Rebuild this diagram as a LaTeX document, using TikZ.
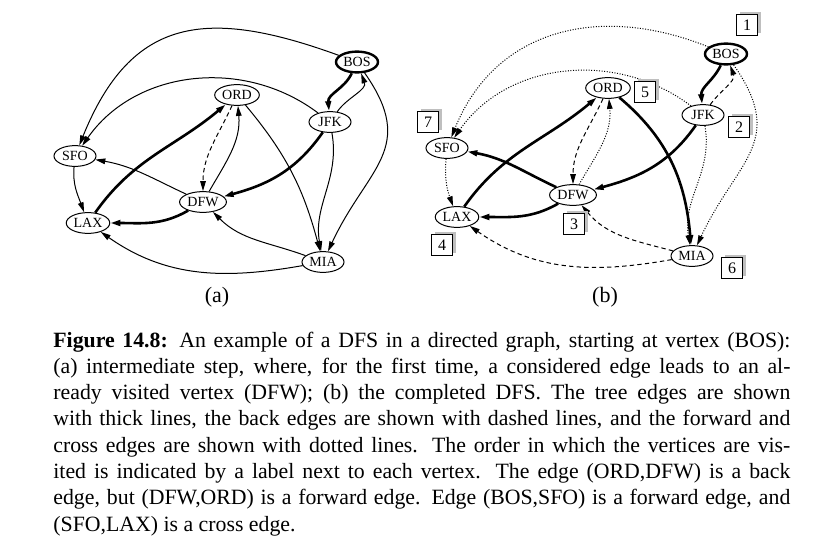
\documentclass[tikz,border=0pt]{standalone}
\usepackage{fontspec}
\setmainfont{Liberation Serif}
\usetikzlibrary{arrows.meta,shapes.geometric,shadows}

\begin{document}
\begin{tikzpicture}[x=0.5pt, y=0.5pt,
  vtx/.style={ellipse, draw, line width=0.5pt, minimum width=21pt,
              minimum height=10.4pt, inner sep=0.5pt,
              font=\fontsize{7}{8}\selectfont},
  root/.style={vtx, line width=1.2pt},
  arr/.style={-{Triangle[length=5pt, width=2.8pt]}, line width=0.5pt},
  treearr/.style={arr, line width=1.3pt},
  backarr/.style={arr, dash pattern=on 2.2pt off 1.6pt},
  fwdarr/.style={arr, dash pattern=on 0.5pt off 0.8pt},
  order/.style={rectangle, draw, line width=0.7pt, fill=white,
                minimum size=10.5pt, inner sep=0pt,
                font=\fontsize{8}{9}\selectfont,
                drop shadow={shadow xshift=1.5pt, shadow yshift=1.5pt,
                             fill=gray!50, draw=none, opacity=1}},
  sub/.style={font=\fontsize{11}{13}\selectfont},
  captiontext/.style={text width=368.5pt, align=justify, inner sep=0pt,
              font=\fontsize{10.9}{13.15}\selectfont},
]
\useasboundingbox (0,0) rectangle (828,-557);

% (a) intermediate step
\node[root] (bosA) at (357,-62)  {BOS};
\node[vtx]  (ordA) at (237,-95)  {ORD};
\node[vtx]  (jfkA) at (330,-122) {JFK};
\node[vtx]  (sfoA) at (75,-156)  {SFO};
\node[vtx]  (dfwA) at (203,-202) {DFW};
\node[vtx]  (laxA) at (88,-223)  {LAX};
\node[vtx]  (miaA) at (323,-262) {MIA};

\draw[arr] (bosA) to[out=160, in=68, looseness=1.3] (sfoA);
\draw[arr] (jfkA) to[out=143, in=55, looseness=1.0] (sfoA);
\draw[treearr] (bosA) to[out=-115, in=95] (jfkA);
\draw[arr] (jfkA) to[out=55, in=-70] (bosA);
\draw[arr] (bosA) to[out=-55, in=65, looseness=1.3] (miaA);
\draw[arr] (jfkA) to[out=-80, in=100] (miaA);
\draw[treearr] (jfkA) to[out=-125, in=15] (dfwA);
\draw[backarr] (ordA) to[out=-115, in=90] (dfwA);
\draw[arr] (dfwA) to[out=60, in=-85] (ordA);
\draw[arr] (ordA) to[out=-50, in=105] (miaA);
\draw[arr] (dfwA) to[out=155, in=-10] (sfoA);
\draw[treearr] (dfwA) to[out=-150, in=0] (laxA);
\draw[treearr] (laxA) to[out=55, in=-140] (ordA);
\draw[arr] (sfoA) to[out=-95, in=110] (laxA);
\draw[arr] (miaA) to[out=160, in=-45] (dfwA);
\draw[arr] (miaA) to[out=-170, in=-35] (laxA);

\node[sub] (subA) at (217,-297) {(a)};

% (b) completed DFS
\node[root] (bosB) at (726,-54)  {BOS};
\node[vtx]  (ordB) at (608,-88)  {ORD};
\node[vtx]  (jfkB) at (703,-115) {JFK};
\node[vtx]  (sfoB) at (447,-148) {SFO};
\node[vtx]  (dfwB) at (573,-195) {DFW};
\node[vtx]  (laxB) at (457,-217) {LAX};
\node[vtx]  (miaB) at (692,-256) {MIA};

\draw[fwdarr] (bosB) to[out=158, in=68, looseness=1.1] (sfoB);
\draw[fwdarr] (jfkB) to[out=143, in=55, looseness=1.0] (sfoB);
\draw[treearr] (bosB) to[out=-115, in=95] (jfkB);
\draw[backarr] (jfkB) to[out=55, in=-70] (bosB);
\draw[fwdarr] (bosB) to[out=-55, in=65, looseness=1.3] (miaB);
\draw[fwdarr] (jfkB) to[out=-80, in=100] (miaB);
\draw[treearr] (jfkB) to[out=-125, in=15] (dfwB);
\draw[backarr] (ordB) to[out=-115, in=90] (dfwB);
\draw[fwdarr] (dfwB) to[out=60, in=-85] (ordB);
\draw[treearr] (ordB) to[out=-40, in=95] (miaB);
\draw[treearr] (dfwB) to[out=155, in=-10] (sfoB);
\draw[treearr] (dfwB) to[out=-150, in=0] (laxB);
\draw[treearr] (laxB) to[out=55, in=-140] (ordB);
\draw[fwdarr] (sfoB) to[out=-95, in=110] (laxB);
\draw[backarr] (miaB) to[out=165, in=-50] (dfwB);
\draw[backarr] (miaB) to[out=-170, in=-35] (laxB);

\node[order] (n1) at (747,-25)  {1};
\node[order] (n2) at (739,-127) {2};
\node[order] (n3) at (574,-224) {3};
\node[order] (n4) at (442,-245) {4};
\node[order] (n5) at (645,-92)  {5};
\node[order] (n6) at (732,-268) {6};
\node[order] (n7) at (428,-122) {7};

\node[sub] (subB) at (605,-297) {(b)};

% caption
\node[captiontext, anchor=base west] (caption) at (53,-347) {%
\textbf{Figure 14.8:} An example of a DFS in a directed graph, starting at vertex (BOS):\linebreak
(a) intermediate step, where, for the first time, a considered edge leads to an al-\linebreak
ready visited vertex (DFW); (b) the completed DFS. The tree edges are shown\linebreak
with thick lines, the back edges are shown with dashed lines, and the forward and\linebreak
cross edges are shown with dotted lines. The order in which the vertices are vis-\linebreak
ited is indicated by a label next to each vertex. The edge (ORD,DFW) is a back\linebreak
edge, but (DFW,ORD) is a forward edge. Edge (BOS,SFO) is a forward edge, and\linebreak
(SFO,LAX) is a cross edge.};
\end{tikzpicture}
\end{document}
